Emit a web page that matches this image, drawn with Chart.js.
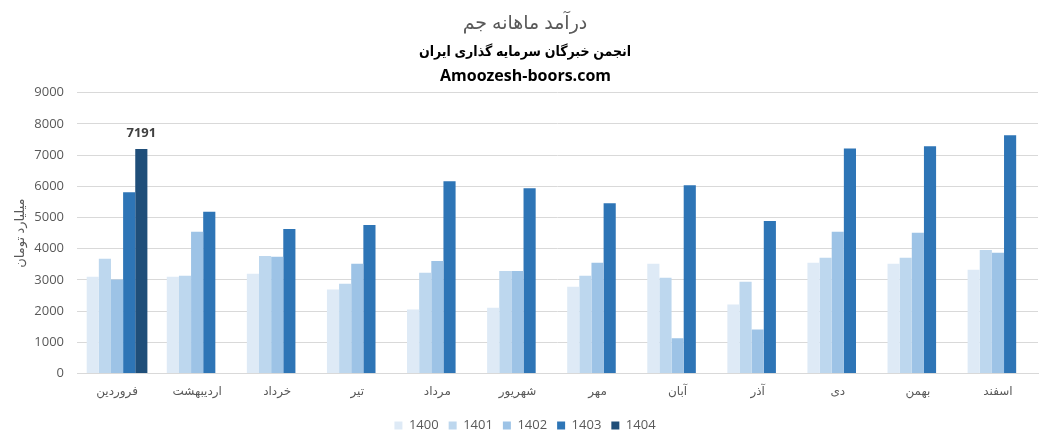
<!DOCTYPE html>
<html>
<head>
<meta charset="utf-8">
<script src="https://cdn.jsdelivr.net/npm/chart.js@4.4.1/dist/chart.umd.min.js"></script>
<style>
html,body{margin:0;padding:0;background:#fff;}
#wrap{width:1051px;height:447px;position:relative;}
</style>
</head>
<body>
<div id="wrap"><canvas id="c" width="1051" height="447"></canvas></div>
<script>
const months = ["فروردین","اردیبهشت","خرداد","تیر","مرداد","شهریور","مهر","آبان","آذر","دی","بهمن","اسفند"];
const yearLabels = ["1400","1401","1402","1403","1404"];
const y1400 = [3100,3100,3200,2690,2050,2110,2780,3520,2210,3550,3520,3330];
const y1401 = [3680,3130,3770,2880,3230,3290,3130,3070,2940,3710,3710,3960];
const y1402 = [3010,4540,3740,3520,3610,3290,3550,1130,1410,4540,4510,3870];
const y1403 = [5810,5180,4630,4760,6160,5940,5460,6030,4890,7210,7280,7630];
const y1404 = [7191,null,null,null,null,null,null,null,null,null,null,null];
const yTicks = [0,1000,2000,3000,4000,5000,6000,7000,8000,9000];
const titleText = "درآمد ماهانه جم";
const subtitleText = "انجمن خبرگان سرمایه گذاری ایران";
const siteText = "Amoozesh-boors.com";
const yTitleText = "میلیارد تومان";
const colors = ["#DEEAF6","#BDD7EE","#9DC3E6","#2E75B6","#1F4E79"];
const seriesData = [y1400,y1401,y1402,y1403,y1404];

const FONT = "'Open Sans','DejaVu Sans',sans-serif";
const FONT_FA = "'Open Sans','DejaVu Sans Condensed','DejaVu Sans',sans-serif";

const labelPlugin = {
  id: 'lastLabel',
  afterDatasetsDraw(chart) {
    const ctx = chart.ctx;
    const dsIndex = 4;
    const meta = chart.getDatasetMeta(dsIndex);
    meta.data.forEach((el, i) => {
      const v = chart.data.datasets[dsIndex].data[i];
      if (v == null) return;
      ctx.save();
      ctx.font = "bold 13px " + FONT;
      ctx.fillStyle = "#404040";
      ctx.textAlign = "center";
      ctx.textBaseline = "middle";
      ctx.fillText(String(v), el.x, el.y - 16);
      ctx.restore();
    });
  }
};

const sitePlugin = {
  id: 'siteLine',
  afterDraw(chart) {
    const ctx = chart.ctx;
    ctx.save();
    ctx.font = "bold 16px " + FONT;
    ctx.fillStyle = "#000000";
    ctx.textAlign = "center";
    ctx.textBaseline = "middle";
    ctx.fillText(siteText, chart.width / 2, chart.chartArea.top - 16);
    ctx.restore();
  }
};

new Chart(document.getElementById('c'), {
  type: 'bar',
  data: {
    labels: months,
    datasets: yearLabels.map((y, k) => ({
      label: y,
      data: seriesData[k],
      backgroundColor: colors[k],
      borderWidth: 0,
      categoryPercentage: 0.758,
      barPercentage: 1.0
    }))
  },
  options: {
    responsive: false,
    animation: false,
    devicePixelRatio: 1,
    layout: { padding: { left: 12, right: 13, top: 4, bottom: 5 } },
    plugins: {
      title: {
        display: true,
        text: titleText,
        color: "#595959",
        font: { family: FONT, size: 19, weight: 'normal' },
        padding: { top: 8, bottom: 4 }
      },
      subtitle: {
        display: true,
        text: subtitleText,
        color: "#000000",
        font: { family: FONT_FA, size: 14, weight: 'bold' },
        padding: { top: 5, bottom: 32 }
      },
      legend: {
        position: 'bottom',
        labels: {
          boxWidth: 8, boxHeight: 8,
          color: "#595959",
          font: { family: FONT, size: 13 },
          padding: 10
        }
      },
      tooltip: { enabled: false }
    },
    scales: {
      x: {
        grid: { display: false, drawTicks: false },
        border: { display: true, color: "#d9d9d9" },
        ticks: { color: "#595959", font: { family: FONT, size: 12, lineHeight: 0.45 }, padding: 15, maxRotation: 0 }
      },
      y: {
        min: 0, max: 9000,
        afterBuildTicks(axis) { axis.ticks = yTicks.map(v => ({ value: v })); },
        afterFit(axis) { axis.width = 65; },
        grid: { color: "#d9d9d9", drawTicks: false },
        border: { display: false },
        ticks: { color: "#595959", font: { family: FONT, size: 13 }, padding: 13,
                 callback: (v) => String(v) },
        title: {
          display: true,
          text: yTitleText,
          color: "#595959",
          font: { family: FONT, size: 13 },
          padding: { top: 0, bottom: 0 }
        }
      }
    }
  },
  plugins: [labelPlugin, sitePlugin]
});
</script>
</body>
</html>
